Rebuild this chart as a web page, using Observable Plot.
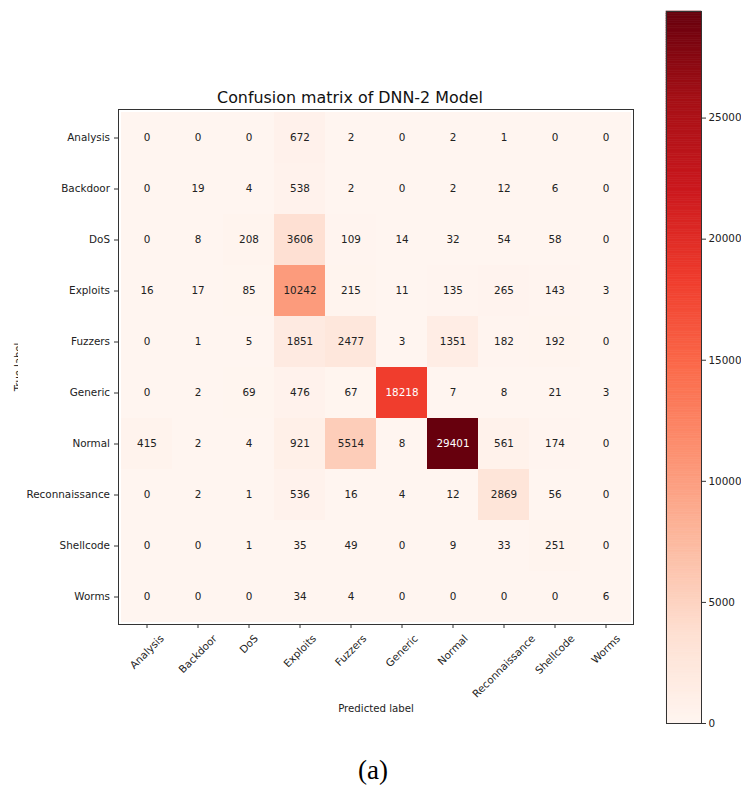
<!DOCTYPE html>
<html>
<head>
<meta charset="utf-8">
<script src="https://cdn.jsdelivr.net/npm/d3@7"></script>
<script src="https://cdn.jsdelivr.net/npm/@observablehq/plot@0.6"></script>
<style>
  html, body { margin: 0; padding: 0; background: #fff; }
  #chart { position: relative; width: 741px; height: 796px; background: #fff; font-family: "DejaVu Sans", sans-serif; overflow: hidden; }
  #chart svg { position: absolute; top: 0; background: transparent; }
  #ylab { position: absolute; left: 0; top: 0; width: 18px; height: 740px; overflow: hidden; }
  #ylab div { position: absolute; left: 14px; top: 367px; transform-origin: 0 0; transform: rotate(-90deg) translate(-50%, 0); font-size: 10px; line-height: 1; white-space: nowrap; color: #222; }
  #caption { position: absolute; left: 0; width: 746px; top: 755px; text-align: center; font-family: "Liberation Serif", "Times New Roman", serif; font-size: 27px; color: #000; }
</style>
</head>
<body>
<div id="chart">
  <div id="ylab"><div>True label</div></div>
  <div id="caption">(a)</div>
</div>
<script>
// Class names, shared by true (rows) and predicted (columns) labels
const classes = ["Analysis", "Backdoor", "DoS", "Exploits", "Fuzzers", "Generic", "Normal", "Reconnaissance", "Shellcode", "Worms"];

// Counts per true label, ordered by predicted label
const analysisRow       = [0, 0, 0, 672, 2, 0, 2, 1, 0, 0];
const backdoorRow       = [0, 19, 4, 538, 2, 0, 2, 12, 6, 0];
const dosRow            = [0, 8, 208, 3606, 109, 14, 32, 54, 58, 0];
const exploitsRow       = [16, 17, 85, 10242, 215, 11, 135, 265, 143, 3];
const fuzzersRow        = [0, 1, 5, 1851, 2477, 3, 1351, 182, 192, 0];
const genericRow        = [0, 2, 69, 476, 67, 18218, 7, 8, 21, 3];
const normalRow         = [415, 2, 4, 921, 5514, 8, 29401, 561, 174, 0];
const reconnaissanceRow = [0, 2, 1, 536, 16, 4, 12, 2869, 56, 0];
const shellcodeRow      = [0, 0, 1, 35, 49, 0, 9, 33, 251, 0];
const wormsRow          = [0, 0, 0, 34, 4, 0, 0, 0, 0, 6];

// Colorbar tick values
const colorbarTicks = [0, 5000, 10000, 15000, 20000, 25000];

const rows = [analysisRow, backdoorRow, dosRow, exploitsRow, fuzzersRow, genericRow, normalRow, reconnaissanceRow, shellcodeRow, wormsRow];
const cells = rows.flatMap((r, i) => r.map((v, j) => ({ actual: classes[i], predicted: classes[j], value: v })));
const maxCount = d3.max(cells, d => d.value);
const threshold = maxCount / 2;

// Reds colormap stops, linearly interpolated
const reds = ["#fff5f0", "#fee0d2", "#fcbba1", "#fc9272", "#fb6a4a", "#ef3b2c", "#cb181d", "#a50f15", "#67000d"];
const colorScale = { type: "linear", domain: reds.map((_, i) => i / (reds.length - 1) * maxCount), range: reds };

const FS = 10.4;
const FONT = `${FS}px "DejaVu Sans"`;
const ctx = document.createElement("canvas").getContext("2d");
ctx.font = FONT;
const textWidth = s => ctx.measureText(s).width;

// Rotated x labels: bounding box centred under each tick, top just below it
const xLabels = classes.map(c => {
  const w = textWidth(c), h = FS * 0.9;
  const dy = 9 + (w + h) * Math.SQRT1_2 / 2;
  return Plot.text([c], { x: d => d, frameAnchor: "bottom", dy, rotate: -45, textAnchor: "middle", lineAnchor: "middle", fontSize: FS, fill: "#222" });
});

const matrix = Plot.plot({
  width: 660,
  height: 740,
  marginLeft: 118,
  marginRight: 27,
  marginTop: 109,
  marginBottom: 116,
  style: { fontFamily: "DejaVu Sans", fontSize: `${FS}px`, color: "#222", background: "transparent" },
  x: { type: "band", domain: classes, padding: 0, axis: null },
  y: { type: "band", domain: classes, padding: 0, axis: null },
  color: colorScale,
  marks: [
    Plot.cell(cells, { x: "predicted", y: "actual", fill: "value", inset: 0 }),
    Plot.text(cells.filter(d => d.value <= threshold), { x: "predicted", y: "actual", text: d => String(d.value), fill: "#222", fontSize: FS }),
    Plot.text(cells.filter(d => d.value > threshold), { x: "predicted", y: "actual", text: d => String(d.value), fill: "#ffffff", fontSize: FS }),
    Plot.frame({ stroke: "#333", strokeWidth: 1 }),
    Plot.axisY({ tickSize: 4, tickPadding: 4.5, label: null, fontSize: FS, stroke: "#333" }),
    Plot.axisX({ tickSize: 4, tickFormat: () => "", label: null, stroke: "#333" }),
    ...xLabels,
    Plot.text(["Confusion matrix of DNN-2 Model"], { frameAnchor: "top", dx: -26, dy: -12, lineAnchor: "middle", fontSize: 15.9, fill: "#111" }),
    Plot.text(["Predicted label"], { frameAnchor: "bottom", dy: 84, lineAnchor: "middle", fontSize: 10.2, fill: "#222" })
  ]
});
matrix.style.left = "0px";

// Vertical colorbar drawn from the same color scale
const N = 300;
const bands = d3.range(N).map(i => ({ y1: i * maxCount / N, y2: (i + 1) * maxCount / N }));
const colorbar = Plot.plot({
  width: 121,
  height: 740,
  marginLeft: 46,
  marginRight: 40,
  marginTop: 11,
  marginBottom: 17,
  style: { fontFamily: "DejaVu Sans", fontSize: `${FS}px`, color: "#222", background: "transparent" },
  x: { domain: [0, 1], axis: null },
  y: { domain: [0, maxCount], axis: null },
  color: colorScale,
  marks: [
    Plot.rect(bands, { x1: 0, x2: 1, y1: "y1", y2: "y2", fill: d => (d.y1 + d.y2) / 2, stroke: d => (d.y1 + d.y2) / 2, strokeWidth: 0.6 }),
    Plot.frame({ stroke: "#333", strokeWidth: 1 }),
    Plot.axisY({ anchor: "right", ticks: colorbarTicks, tickFormat: d => String(d), tickSize: 4, tickPadding: 3, label: null, fontSize: FS, stroke: "#333" })
  ]
});
colorbar.style.left = "620px";

const chart = document.getElementById("chart");
chart.appendChild(matrix);
chart.appendChild(colorbar);
</script>
</body>
</html>
